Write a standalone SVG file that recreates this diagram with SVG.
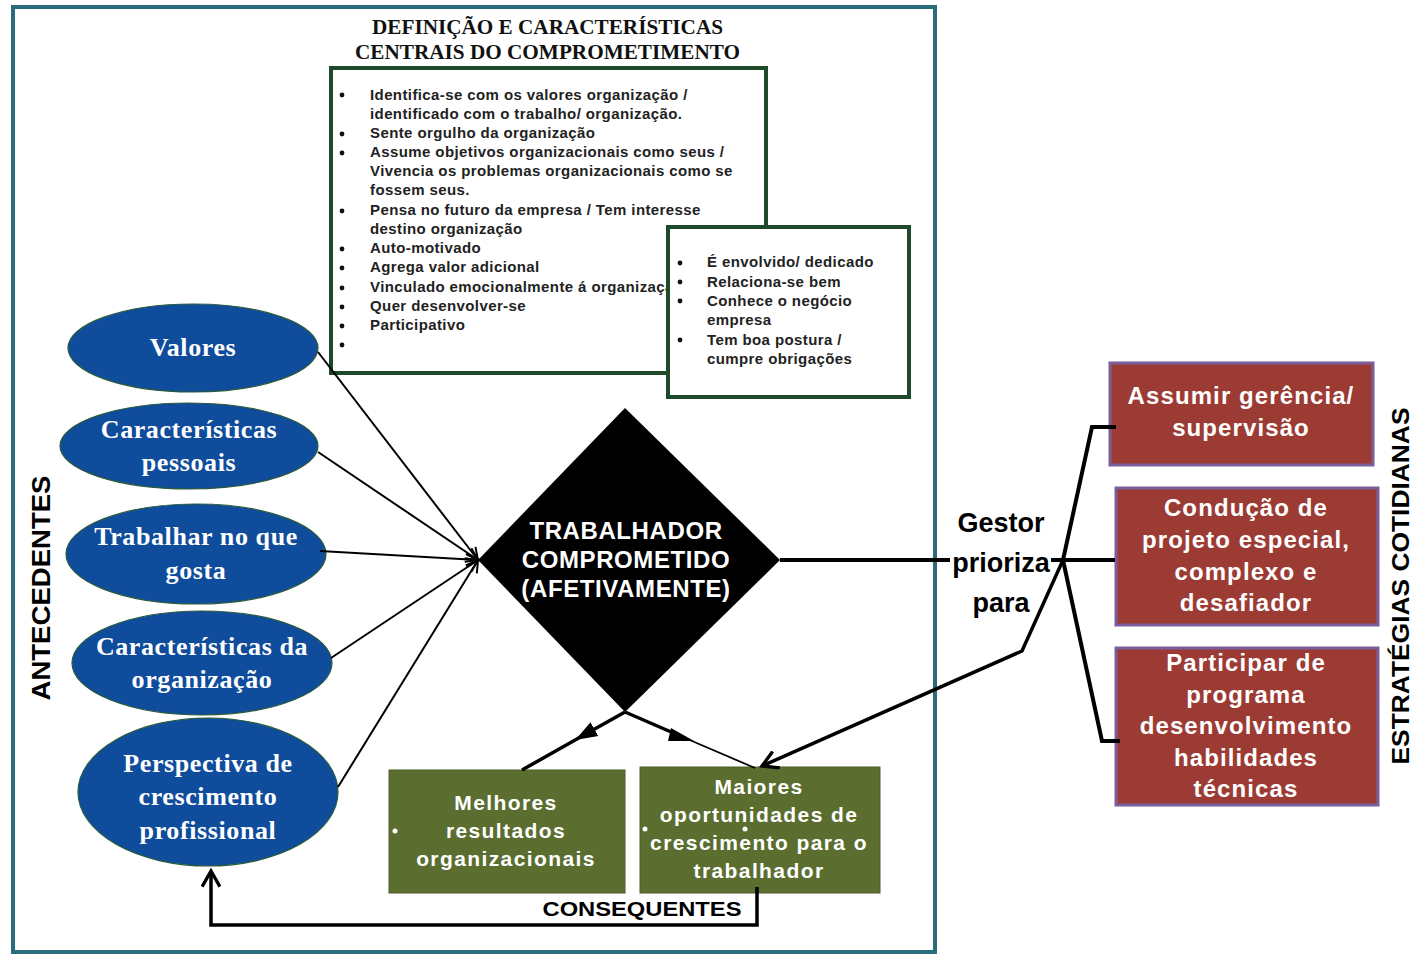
<svg xmlns="http://www.w3.org/2000/svg" width="1414" height="956" viewBox="0 0 1414 956">
  <style>
    .frame { fill: #ffffff; stroke: #2a6b7c; stroke-width: 4; }
    .title { font-family: "Liberation Serif", serif; font-weight: bold; font-size: 20px; fill: #111; }
    .listbox { fill: #ffffff; stroke: #1f4a2a; stroke-width: 4; }
    .item { font-family: "Liberation Sans", Arial, sans-serif; font-weight: bold; font-size: 15px; fill: #222; letter-spacing: 0.4px; }
    .dot { fill: #111; }
    .oval { fill: #0f4c9c; stroke: #2b5a3a; stroke-width: 1.2; }
    .ovaltxt { font-family: "Liberation Serif", serif; font-weight: bold; font-size: 26px; fill: #ffffff; text-anchor: middle; letter-spacing: 0.6px; }
    .core { fill: #000000; }
    .coretxt { font-family: "Liberation Sans", Arial, sans-serif; font-weight: bold; font-size: 24px; fill: #ffffff; text-anchor: middle; letter-spacing: 0.6px; }
    .cons { fill: #5b6e30; stroke: #4d5f28; stroke-width: 1; }
    .constxt { font-family: "Liberation Sans", Arial, sans-serif; font-weight: bold; font-size: 21px; fill: #ffffff; text-anchor: middle; letter-spacing: 1.4px; }
    .strat { fill: #9c3b34; stroke: #7b5e9c; stroke-width: 3; }
    .strattxt { font-family: "Liberation Sans", Arial, sans-serif; font-weight: bold; font-size: 24px; fill: #ffffff; text-anchor: middle; letter-spacing: 1.1px; }
    .label { font-family: "Liberation Sans", Arial, sans-serif; font-weight: bold; fill: #000; }
    .thin { fill: none; stroke: #000; stroke-width: 2; }
    .thick { fill: none; stroke: #000; stroke-width: 3.5; }
    .bold { fill: none; stroke: #000; stroke-width: 4; }
  </style>
  <defs>
    <marker id="openHead" markerUnits="userSpaceOnUse" markerWidth="16" markerHeight="16" refX="13" refY="7" orient="auto" viewBox="0 0 16 14">
      <path d="M1,1 L13,7 L1,13" fill="none" stroke="#000" stroke-width="2"/>
    </marker>
    <marker id="openHeadBig" markerUnits="userSpaceOnUse" markerWidth="20" markerHeight="20" refX="15" refY="9" orient="auto" viewBox="0 0 18 18">
      <path d="M1,1 L15,9 L1,17" fill="none" stroke="#000" stroke-width="3"/>
    </marker>
    <marker id="solidHead" markerUnits="userSpaceOnUse" markerWidth="24" markerHeight="18" refX="12" refY="8" orient="auto" viewBox="0 0 24 16">
      <path d="M0,0 L22,8 L0,16 Z" fill="#000"/>
    </marker>
  </defs>

  <!-- outer frame -->
  <rect class="frame" x="13" y="7" width="922" height="945"/>

  <!-- heading above the list of characteristics -->
  <g id="heading">
    <text class="title" x="372" y="34" textLength="351" lengthAdjust="spacingAndGlyphs">DEFINIÇÃO E CARACTERÍSTICAS</text>
    <text class="title" x="355" y="59" textLength="385" lengthAdjust="spacingAndGlyphs">CENTRAIS DO COMPROMETIMENTO</text>
  </g>

  <!-- main list of characteristics -->
  <g id="characteristics">
    <rect class="listbox" x="331" y="68" width="435" height="305"/>
    <g class="dot">
      <circle cx="342" cy="95" r="2.4"/>
      <circle cx="342" cy="134" r="2.4"/>
      <circle cx="342" cy="153" r="2.4"/>
      <circle cx="342" cy="211" r="2.4"/>
      <circle cx="342" cy="249" r="2.4"/>
      <circle cx="342" cy="268" r="2.4"/>
      <circle cx="342" cy="288" r="2.4"/>
      <circle cx="342" cy="307" r="2.4"/>
      <circle cx="342" cy="326" r="2.4"/>
      <circle cx="342" cy="345" r="2.4"/>
    </g>
    <text class="item" x="370" y="100">Identifica-se com os valores organização /</text>
    <text class="item" x="370" y="119">identificado com o trabalho/ organização.</text>
    <text class="item" x="370" y="138">Sente orgulho da organização</text>
    <text class="item" x="370" y="157">Assume objetivos organizacionais como seus /</text>
    <text class="item" x="370" y="176">Vivencia os problemas organizacionais como se</text>
    <text class="item" x="370" y="195">fossem seus.</text>
    <text class="item" x="370" y="215">Pensa no futuro da empresa / Tem interesse</text>
    <text class="item" x="370" y="234">destino organização</text>
    <text class="item" x="370" y="253">Auto-motivado</text>
    <text class="item" x="370" y="272">Agrega valor adicional</text>
    <text class="item" x="370" y="292">Vinculado emocionalmente á organização</text>
    <text class="item" x="370" y="311">Quer desenvolver-se</text>
    <text class="item" x="370" y="330">Participativo</text>
  </g>

  <!-- secondary list, overlapping the main one -->
  <g id="behaviours">
    <rect class="listbox" x="668" y="227" width="241" height="170"/>
    <g class="dot">
      <circle cx="680" cy="263" r="2.4"/>
      <circle cx="680" cy="282" r="2.4"/>
      <circle cx="680" cy="301" r="2.4"/>
      <circle cx="680" cy="340" r="2.4"/>
    </g>
    <text class="item" x="707" y="267">É envolvido/ dedicado</text>
    <text class="item" x="707" y="287">Relaciona-se bem</text>
    <text class="item" x="707" y="306">Conhece o negócio</text>
    <text class="item" x="707" y="325">empresa</text>
    <text class="item" x="707" y="345">Tem boa postura /</text>
    <text class="item" x="707" y="364">cumpre obrigações</text>
  </g>

  <!-- antecedents -->
  <text class="label" font-size="26" transform="translate(50,588) rotate(-90)" text-anchor="middle" textLength="225" lengthAdjust="spacingAndGlyphs">ANTECEDENTES</text>

  <g id="valores">
    <ellipse class="oval" cx="193" cy="348" rx="125" ry="44"/>
    <text class="ovaltxt" x="193" y="356">Valores</text>
  </g>
  <g id="caracteristicas-pessoais">
    <ellipse class="oval" cx="189" cy="446" rx="129" ry="43"/>
    <text class="ovaltxt" x="189" y="438">Características</text>
    <text class="ovaltxt" x="189" y="471">pessoais</text>
  </g>
  <g id="trabalhar-no-que-gosta">
    <ellipse class="oval" cx="196" cy="554" rx="130" ry="50"/>
    <text class="ovaltxt" x="196" y="545">Trabalhar no que</text>
    <text class="ovaltxt" x="196" y="579">gosta</text>
  </g>
  <g id="caracteristicas-organizacao">
    <ellipse class="oval" cx="202" cy="663" rx="130" ry="52"/>
    <text class="ovaltxt" x="202" y="655">Características da</text>
    <text class="ovaltxt" x="202" y="688">organização</text>
  </g>
  <g id="perspectiva-crescimento">
    <ellipse class="oval" cx="208" cy="792" rx="130" ry="74"/>
    <text class="ovaltxt" x="208" y="772">Perspectiva de</text>
    <text class="ovaltxt" x="208" y="805">crescimento</text>
    <text class="ovaltxt" x="208" y="839">profissional</text>
  </g>

  <!-- central node -->
  <g id="trabalhador">
    <polygon class="core" points="625,408 780,560 625,712 478,560"/>
    <text class="coretxt" x="626" y="539">TRABALHADOR</text>
    <text class="coretxt" x="626" y="568">COMPROMETIDO</text>
    <text class="coretxt" x="626" y="597">(AFETIVAMENTE)</text>
  </g>

  <!-- consequences -->
  <g id="melhores-resultados">
    <rect class="cons" x="389" y="770" width="236" height="123"/>
    <circle cx="395" cy="831" r="2.5" fill="#fff"/>
    <text class="constxt" x="506" y="810">Melhores</text>
    <text class="constxt" x="506" y="838">resultados</text>
    <text class="constxt" x="506" y="866">organizacionais</text>
  </g>
  <g id="maiores-oportunidades">
    <rect class="cons" x="640" y="767" width="240" height="126"/>
    <circle cx="645" cy="829" r="2.5" fill="#fff"/>
    <circle cx="745" cy="829" r="2.5" fill="#fff"/>
    <text class="constxt" x="759" y="794">Maiores</text>
    <text class="constxt" x="759" y="822">oportunidades de</text>
    <text class="constxt" x="759" y="850">crescimento para o</text>
    <text class="constxt" x="759" y="878">trabalhador</text>
  </g>
  <text class="label" font-size="21" x="642" y="916" text-anchor="middle" textLength="199" lengthAdjust="spacingAndGlyphs">CONSEQUENTES</text>

  <!-- daily strategies -->
  <g id="assumir-gerencia">
    <rect class="strat" x="1110" y="363" width="263" height="102"/>
    <text class="strattxt" x="1241" y="404">Assumir gerência/</text>
    <text class="strattxt" x="1241" y="436">supervisão</text>
  </g>
  <g id="conducao-projeto">
    <rect class="strat" x="1116" y="488" width="262" height="137"/>
    <text class="strattxt" x="1246" y="516">Condução de</text>
    <text class="strattxt" x="1246" y="548">projeto especial,</text>
    <text class="strattxt" x="1246" y="580">complexo e</text>
    <text class="strattxt" x="1246" y="611">desafiador</text>
  </g>
  <g id="participar-programa">
    <rect class="strat" x="1116" y="648" width="262" height="157"/>
    <text class="strattxt" x="1246" y="671">Participar de</text>
    <text class="strattxt" x="1246" y="703">programa</text>
    <text class="strattxt" x="1246" y="734">desenvolvimento</text>
    <text class="strattxt" x="1246" y="766">habilidades</text>
    <text class="strattxt" x="1246" y="797">técnicas</text>
  </g>
  <text class="label" font-size="24" transform="translate(1409,586) rotate(-90)" text-anchor="middle" textLength="357" lengthAdjust="spacingAndGlyphs">ESTRATÉGIAS COTIDIANAS</text>

  <!-- connectors -->
  <g id="connectors">
    <!-- antecedents into the central node -->
    <line class="thin" x1="318" y1="352" x2="478" y2="560" marker-end="url(#openHead)"/>
    <line class="thin" x1="318" y1="452" x2="478" y2="560" marker-end="url(#openHead)"/>
    <line class="thin" x1="320" y1="551" x2="478" y2="560" marker-end="url(#openHead)"/>
    <line class="thin" x1="331" y1="658" x2="478" y2="560" marker-end="url(#openHead)"/>
    <line class="thin" x1="338" y1="787" x2="478" y2="560" marker-end="url(#openHead)"/>

    <!-- central node to consequences -->
    <path class="thick" d="M625,712 L584,735 L522,770" marker-mid="url(#solidHead)"/>
    <path class="thick" d="M625,712 L685,738"/>
    <path fill="none" stroke="#000" stroke-width="1.8" d="M685,738 L755,768"/>
    <path d="M671,728 L694,741 L668,741 Z" fill="#000"/>

    <!-- feedback loop back to growth perspective -->
    <path class="thick" d="M757,887 L757,925 L211,925 L211,871" marker-end="url(#openHeadBig)"/>

    <!-- central node to the manager's priorities -->
    <line class="bold" x1="780" y1="560" x2="1115" y2="560"/>
    <rect x="950" y="543" width="101" height="32" fill="#ffffff"/>
    <line class="bold" x1="938" y1="560" x2="950" y2="560"/>
    <text class="label" font-size="27" x="1001" y="532" text-anchor="middle">Gestor</text>
    <text class="label" font-size="27" x="1001" y="572" text-anchor="middle">prioriza</text>
    <text class="label" font-size="27" x="1001" y="612" text-anchor="middle">para</text>

    <!-- fan towards the strategies -->
    <path class="bold" d="M1063,560 L1092,427 L1116,427"/>
    <path class="bold" d="M1063,560 L1102,741 L1120,741"/>
    <path class="bold" d="M1052,560 L1063,560"/>
    <path class="thick" d="M1063,560 L1022,651 L762,766" marker-end="url(#openHeadBig)"/>
  </g>
</svg>
